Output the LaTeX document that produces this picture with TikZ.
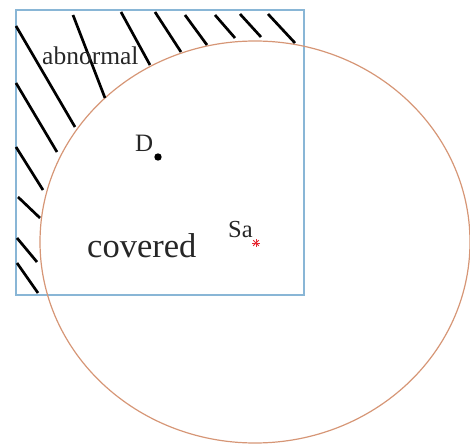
\documentclass[tikz,border=0pt]{standalone}
\usepackage{fontspec}
\setmainfont{Liberation Serif}
\usetikzlibrary{calc}
\definecolor{boxblue}{RGB}{137,182,214}
\definecolor{ringbrown}{RGB}{214,150,118}
\definecolor{markred}{RGB}{230,40,50}
\begin{document}
\begin{tikzpicture}[x=1pt,y=-1pt,
  hatch/.style={line width=2.7pt,black},
  lbl/.style={inner sep=0pt,anchor=base west,text=black!85}]
\useasboundingbox (0,0) rectangle (470,446);
% frame and circle
\draw[boxblue,line width=1.3pt] (16,10) rectangle (304,295);
\draw[ringbrown,line width=1.2pt] (255,242) ellipse [x radius=215,y radius=201];
% hatching of the abnormal region
\foreach \a/\b/\c/\d in {16/26/75/127, 73/15/105/98, 121/12/150/65,
  155/12/181/52, 185/15/207/45, 215/15/235/38, 240/14/261/37, 268/14/295/43,
  16/83/57/152, 16/147/43/190, 18/197/40/218, 17/238/37/262, 17/263/38/293}
  \draw[hatch] (\a,\b) -- (\c,\d);
% labels
\node[lbl,font=\fontsize{25.5}{25.5}\selectfont] (abn) at (42,65) {abnormal};
\node[lbl,font=\fontsize{25}{25}\selectfont] (dlab) at (135,152) {D};
\node[lbl,font=\fontsize{34.5}{34.5}\selectfont] (cov) at (87,257) {covered};
\node[lbl,font=\fontsize{24.5}{24.5}\selectfont] (salab) at (228,237) {Sa};
% points
\fill[black] (158,157) circle (3.7);
\coordinate (sa) at (256,243);
\foreach \ang in {0,45,90,135}
  \draw[markred,line width=0.8pt] ($(sa)+(\ang:4)$) -- ($(sa)+(\ang+180:4)$);
\end{tikzpicture}
\end{document}
